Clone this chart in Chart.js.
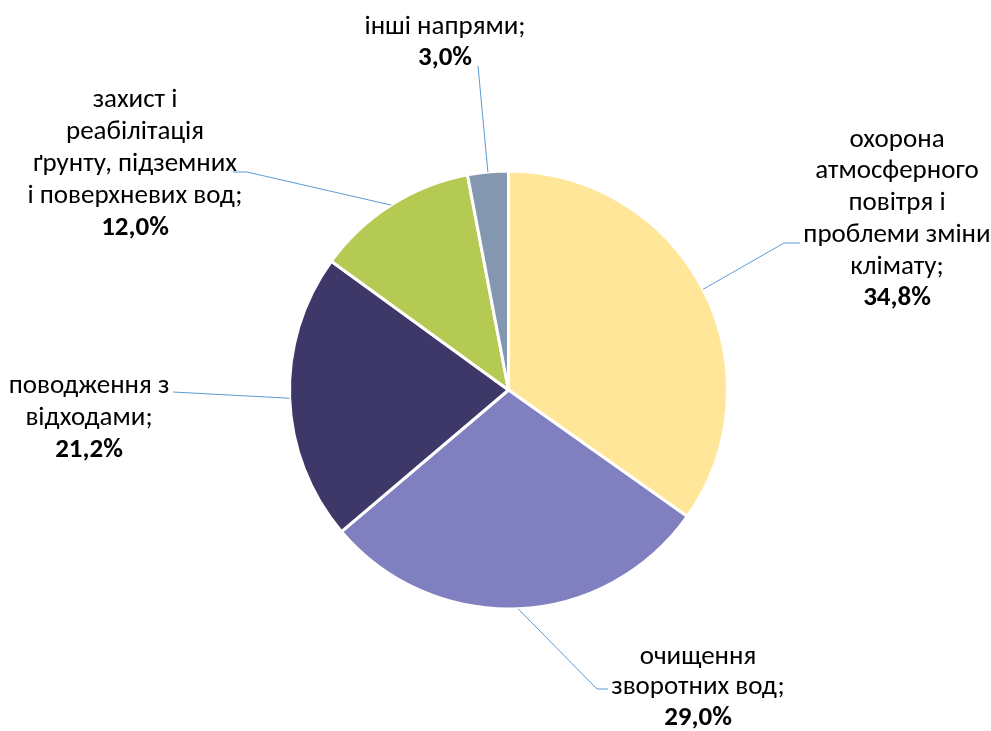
<!DOCTYPE html>
<html>
<head>
<meta charset="utf-8">
<script src="https://cdn.jsdelivr.net/npm/chart.js@4/dist/chart.umd.min.js"></script>
<style>
html,body{margin:0;padding:0;background:#fff;}
#wrap{width:991px;height:731px;position:relative;}
</style>
</head>
<body>
<div id="wrap"><canvas id="c" width="991" height="731"></canvas></div>
<script>
// ---- data ----
const categories = [
  ["охорона", "атмосферного", "повітря і", "проблеми зміни", "клімату;"],
  ["очищення", "зворотних вод;"],
  ["поводження з", "відходами;"],
  ["захист і", "реабілітація", "ґрунту, підземних", "і поверхневих вод;"],
  ["інші напрями;"]
];
const shares = [34.8, 29.0, 21.2, 12.0, 3.0];
const sliceColors = ["#FFE699", "#8080C0", "#3D3868", "#B5CA52", "#8497B0"];

// ---- label layout (positions/styles only) ----
const labelLayout = [
  {cx: 897, top: 140, lh: 31.7, path: [[784, 243], [800, 243]]},
  {cx: 698, top: 657, lh: 30.5, path: [[597, 689], [608, 689]]},
  {cx: 89,  top: 386, lh: 32,   path: [[173, 392]]},
  {cx: 135, top: 100, lh: 32,   path: [[247, 172], [233, 172]]},
  {cx: 445, top: 27,  lh: 31,   path: [[478, 66]]}
];
const FONT = "Carlito, Calibri, Lato, 'Liberation Sans', sans-serif";
const FSIZE = 27;

const labelPlugin = {
  id: 'pieLabels',
  afterDraw(chart) {
    const ctx = chart.ctx;
    const meta = chart.getDatasetMeta(0);
    ctx.save();
    meta.data.forEach((arc, i) => {
      const p = arc.getProps(['x', 'y', 'startAngle', 'endAngle', 'outerRadius'], true);
      const mid = (p.startAngle + p.endAngle) / 2;
      const ax = p.x + Math.cos(mid) * p.outerRadius;
      const ay = p.y + Math.sin(mid) * p.outerRadius;
      const L = labelLayout[i];
      ctx.beginPath();
      ctx.strokeStyle = '#5B9BD5';
      ctx.lineWidth = 1;
      ctx.moveTo(ax, ay);
      L.path.forEach(pt => ctx.lineTo(pt[0], pt[1]));
      ctx.stroke();
      const lines = categories[i];
      ctx.fillStyle = '#000';
      ctx.textAlign = 'center';
      ctx.textBaseline = 'middle';
      ctx.font = FSIZE + 'px ' + FONT;
      lines.forEach((t, k) => ctx.fillText(t, L.cx, L.top + k * L.lh));
      ctx.font = 'bold ' + FSIZE + 'px ' + FONT;
      const pct = shares[i].toFixed(1).replace('.', ',') + '%';
      ctx.fillText(pct, L.cx, L.top + lines.length * L.lh);
    });
    ctx.restore();
  }
};

new Chart(document.getElementById('c'), {
  type: 'pie',
  data: {
    labels: categories.map(c => c.join(' ')),
    datasets: [{
      data: shares,
      backgroundColor: sliceColors,
      borderColor: '#ffffff',
      borderWidth: 3
    }]
  },
  options: {
    responsive: false,
    animation: false,
    layout: {padding: {top: 169, bottom: 120, left: 288, right: 262}},
    plugins: {legend: {display: false}, tooltip: {enabled: false}}
  },
  plugins: [labelPlugin]
});
</script>
</body>
</html>
